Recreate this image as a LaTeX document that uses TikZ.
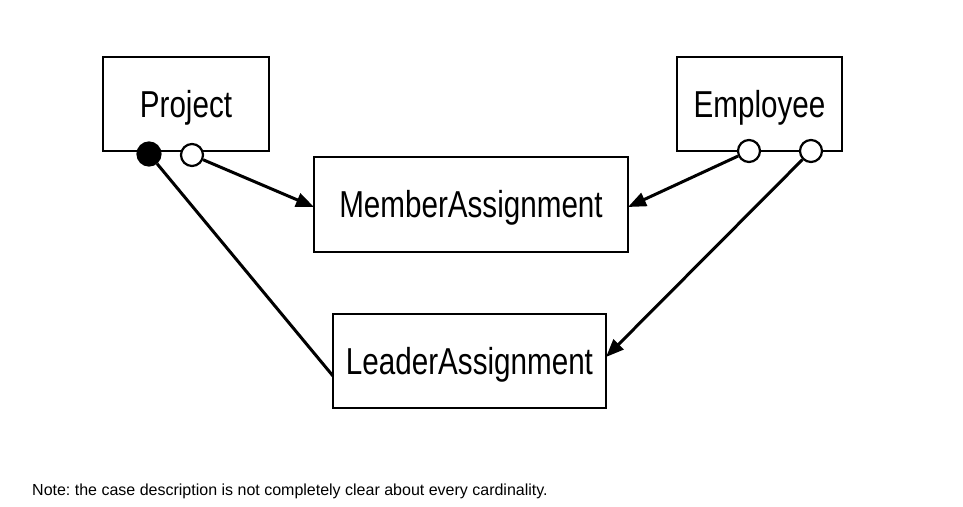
\documentclass[tikz,border=0pt]{standalone}
\usepackage{fontspec}
\setmainfont{Liberation Sans}
\newfontfamily\narrowfont[FakeStretch=0.79]{Liberation Sans}
\usetikzlibrary{arrows.meta}
\frenchspacing
\begin{document}
\begin{tikzpicture}[x=1pt,y=-1pt,
  ent/.style={draw,line width=1.3pt,inner sep=0pt,text height=26.5pt,text depth=0pt,font=\narrowfont\fontsize{37.5}{40}\selectfont},
  conn/.style={line width=3pt},
  arr/.style={conn,-{Triangle[length=18pt,width=14pt]}},
  ocirc/.style={circle,draw,line width=2.2pt,fill=white,minimum size=22pt,inner sep=0pt},
  fcirc/.style={circle,draw,line width=2.2pt,fill=black,minimum size=23pt,inner sep=0pt}]
\useasboundingbox (0,0) rectangle (963,506);
\node[ent,minimum width=166pt,minimum height=94pt] (proj) at (186,104) {Project};
\node[ent,minimum width=165pt,minimum height=94pt] (emp) at (759.5,104) {Employee};
\node[ent,minimum width=314pt,minimum height=95pt] (mem) at (471,204.5) {MemberAssignment};
\node[ent,minimum width=273pt,minimum height=94pt] (lead) at (469.5,361) {LeaderAssignment};
\node[fcirc] (pf) at (149,154) {};
\node[ocirc] (po) at (192,155) {};
\node[ocirc] (e1) at (749,151) {};
\node[ocirc] (e2) at (811,151) {};
\coordinate (leadL) at (333,376);
\coordinate (leadR) at (606,357);
\coordinate (memL) at (314,207);
\coordinate (memR) at (628,207);
\draw[arr] (po) -- (memL);
\draw[arr] (e1) -- (memR);
\draw[conn] (pf) -- (leadL);
\draw[arr] (e2) -- (leadR);
\node[anchor=west,font=\fontsize{16}{19}\selectfont,inner sep=0pt] (note) at (32,491) {Note: the case description is not completely clear about every cardinality.};
\end{tikzpicture}
\end{document}
